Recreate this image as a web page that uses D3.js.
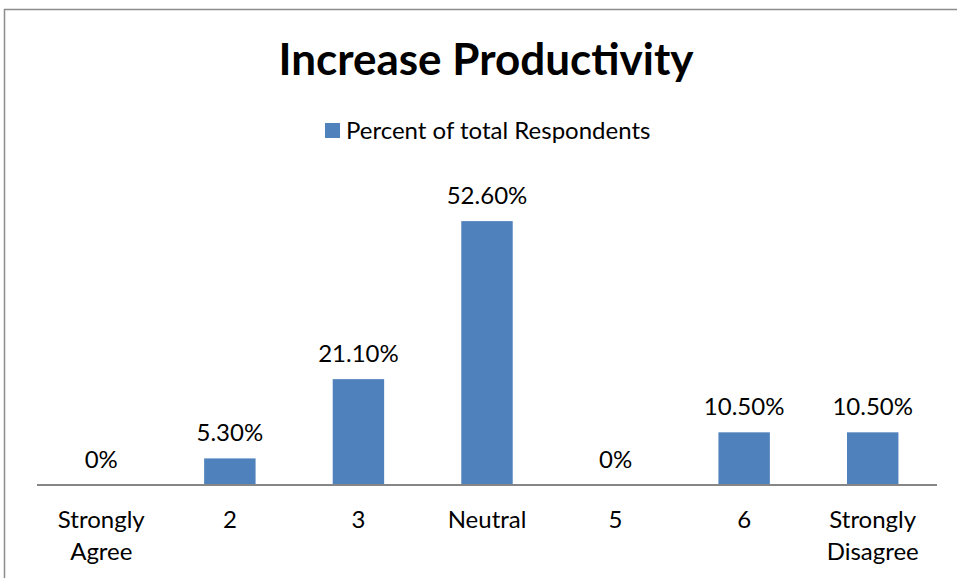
<!doctype html>
<html>
<head>
<meta charset="utf-8">
<title>Increase Productivity</title>
<script src="https://cdn.jsdelivr.net/npm/d3@7"></script>
<style>
  body { margin: 0; background: white; }
  svg { display: block; font-family: Lato, "Open Sans", sans-serif; }
</style>
</head>
<body>
<svg id="chart" width="957" height="578"></svg>
<script>
var categories = [['Strongly', 'Agree'], ['2'], ['3'], ['Neutral'], ['5'], ['6'], ['Strongly', 'Disagree']];
var values = [0, 5.3, 21.1, 52.6, 0, 10.5, 10.5];
var valueLabels = ['0%', '5.30%', '21.10%', '52.60%', '0%', '10.50%', '10.50%'];
var seriesName = 'Percent of total Respondents';

var svg = d3.select('#chart');

// outer chart frame
svg.append('rect')
    .attr('x', 4.5).attr('y', 9.5)
    .attr('width', 960).attr('height', 580)
    .attr('fill', 'white')
    .attr('stroke', '#8c8c8c')
    .attr('stroke-width', 1.5);

var x = d3.scaleBand()
    .domain(d3.range(categories.length))
    .range([37, 937])
    .paddingInner(0.6)
    .paddingOuter(0.3);

var y = d3.scaleLinear()
    .domain([0, 60])
    .range([485, 184]);

svg.append('text')
    .attr('x', 486).attr('y', 75)
    .attr('text-anchor', 'middle')
    .attr('font-size', 44)
    .attr('font-weight', 'bold')
    .text('Increase Productivity');

// legend
var legend = svg.append('g');
legend.append('rect')
    .attr('x', 325).attr('y', 123)
    .attr('width', 15).attr('height', 15)
    .attr('fill', '#4f81bd');
legend.append('text')
    .attr('x', 346).attr('y', 139)
    .attr('font-size', 24)
    .text(seriesName);

svg.selectAll('.bar')
    .data(values)
    .enter().append('rect')
    .attr('class', 'bar')
    .attr('x', function (d, i) { return x(i); })
    .attr('y', function (d) { return y(d); })
    .attr('width', x.bandwidth())
    .attr('height', function (d) { return y(0) - y(d); })
    .attr('fill', '#4f81bd');

svg.selectAll('.val')
    .data(values)
    .enter().append('text')
    .attr('class', 'val')
    .attr('x', function (d, i) { return x(i) + x.bandwidth() / 2; })
    .attr('y', function (d) { return y(d) - 17; })
    .attr('text-anchor', 'middle')
    .attr('font-size', 24)
    .text(function (d, i) { return valueLabels[i]; });

// baseline axis
svg.append('line')
    .attr('x1', 37).attr('x2', 937)
    .attr('y1', y(0)).attr('y2', y(0))
    .attr('stroke', '#868686')
    .attr('stroke-width', 2);

var cat = svg.selectAll('.cat')
    .data(categories)
    .enter().append('text')
    .attr('class', 'cat')
    .attr('text-anchor', 'middle')
    .attr('font-size', 24)
    .attr('transform', function (d, i) {
      return 'translate(' + (x(i) + x.bandwidth() / 2) + ',528)';
    });
cat.selectAll('tspan')
    .data(function (d) { return d; })
    .enter().append('tspan')
    .attr('x', 0)
    .attr('dy', function (d, j) { return j === 0 ? 0 : 32; })
    .text(function (d) { return d; });
</script>
</body>
</html>
